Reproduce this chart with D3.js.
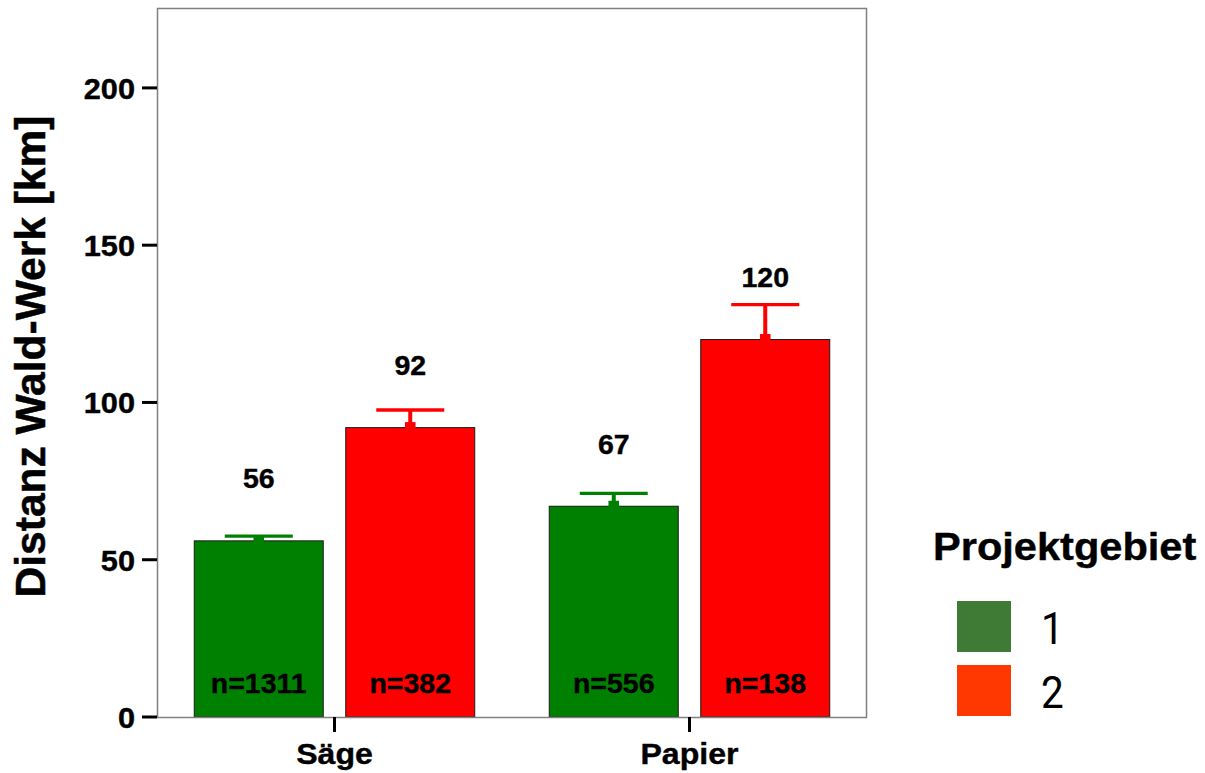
<!DOCTYPE html>
<html>
<head>
<meta charset="utf-8">
<script src="https://cdn.jsdelivr.net/npm/d3@7/dist/d3.min.js"></script>
<style>
  html, body { margin: 0; padding: 0; background: #ffffff; }
  svg { display: block; }
</style>
</head>
<body>
<svg id="chart" width="1205" height="773"></svg>
<script>
// Mean wood transport distance by plant type and project area
const categories = ["Säge", "Papier"];
const groups = ["1", "2"];
const means1 = [56, 67];          // project area 1
const means2 = [92, 120];         // project area 2
const upper1 = [57.5, 71.1];      // upper error bound, area 1
const upper2 = [97.6, 131.1];     // upper error bound, area 2
const counts1 = [1311, 556];
const counts2 = [382, 138];
const yTicks = [0, 50, 100, 150, 200];
const barColors = ["#008000", "#ff0000"];
const legendColors = ["#407b36", "#ff3700"];

const rows = [];
categories.forEach((c, i) => {
  rows.push({ cat: c, grp: "1", mean: means1[i], upper: upper1[i], n: counts1[i] });
  rows.push({ cat: c, grp: "2", mean: means2[i], upper: upper2[i], n: counts2[i] });
});

const svg = d3.select("#chart");
const panel = { left: 157, right: 867, top: 8, bottom: 717 };

const x = d3.scaleBand().domain(categories).range([panel.left, panel.right]).padding(0);
const x1 = d3.scaleBand().domain(groups).range([0, x.bandwidth()])
  .paddingInner(0.1485).paddingOuter(0.246);
const y = d3.scaleLinear().domain([0, 225.4]).range([panel.bottom, panel.top]);
const color = d3.scaleOrdinal().domain(groups).range(barColors);

const boldFont = "'Liberation Sans', Arial, sans-serif";

// stretched text helper
function label(g, txt, px, py, opts) {
  return g.append("text")
    .attr("transform", `translate(${px},${py}) scale(${opts.sx || 1},1)`)
    .attr("text-anchor", opts.anchor || "middle")
    .attr("font-family", opts.family || boldFont)
    .attr("font-weight", opts.weight || "bold")
    .attr("font-size", opts.size)
    .attr("fill", "#000")
    .attr("stroke", opts.weight === "normal" ? "none" : "#000")
    .attr("stroke-width", opts.weight === "normal" ? 0 : 0.4)
    .text(txt);
}

// bars
const barG = svg.append("g");
barG.selectAll("rect.bar").data(rows).join("rect")
  .attr("class", "bar")
  .attr("x", d => x(d.cat) + x1(d.grp))
  .attr("y", d => y(d.mean))
  .attr("width", x1.bandwidth())
  .attr("height", d => y(0) - y(d.mean))
  .attr("fill", d => color(d.grp))
  .attr("stroke", "#1a1a1a")
  .attr("stroke-width", 1);

// error bars (upper part)
const errG = svg.append("g");
rows.forEach(d => {
  const cx = x(d.cat) + x1(d.grp) + x1.bandwidth() / 2;
  const capW = x1.bandwidth() * 0.527;
  const c = color(d.grp);
  errG.append("line")
    .attr("x1", cx).attr("x2", cx)
    .attr("y1", y(d.mean)).attr("y2", y(d.upper))
    .attr("stroke", c).attr("stroke-width", 4);
  errG.append("line")
    .attr("x1", cx - capW / 2).attr("x2", cx + capW / 2)
    .attr("y1", y(d.upper)).attr("y2", y(d.upper))
    .attr("stroke", c).attr("stroke-width", 3.4);
  errG.append("rect")
    .attr("x", cx - 5.3).attr("y", y(d.mean) - 5.5)
    .attr("width", 10.6).attr("height", 6.5)
    .attr("fill", c);
});

// value and sample-size labels
const txtG = svg.append("g");
rows.forEach(d => {
  const cx = x(d.cat) + x1(d.grp) + x1.bandwidth() / 2;
  label(txtG, String(d.mean), cx, y(d.mean + 20) + 10.2, { size: 28.5, sx: 1.0 });
  label(txtG, "n=" + d.n, cx, y(11) + 10.2, { size: 28.5, sx: 1.0 });
});

// panel border
svg.append("rect")
  .attr("x", panel.left + 0.5).attr("y", panel.top + 0.5)
  .attr("width", panel.right - panel.left - 1)
  .attr("height", panel.bottom - panel.top)
  .attr("fill", "none").attr("stroke", "#808080").attr("stroke-width", 1.5);

// y axis
const yAxis = svg.append("g");
yTicks.forEach(t => {
  yAxis.append("line")
    .attr("x1", panel.left - 15).attr("x2", panel.left)
    .attr("y1", y(t)).attr("y2", y(t))
    .attr("stroke", "#000").attr("stroke-width", 3);
  label(yAxis, String(t), 135, y(t) + 10.8, { size: 29, sx: 1.06, anchor: "end" });
});

// x axis
const xAxis = svg.append("g");
categories.forEach(c => {
  const cx = x(c) + x.bandwidth() / 2;
  xAxis.append("line")
    .attr("x1", cx).attr("x2", cx)
    .attr("y1", panel.bottom).attr("y2", panel.bottom + 15)
    .attr("stroke", "#000").attr("stroke-width", 3);
  label(xAxis, c, cx, 764, { size: 30, sx: 1.07 });
});

// y axis title
svg.append("text")
  .attr("transform", `translate(45,${(115 + 598) / 2}) rotate(-90)`)
  .attr("text-anchor", "middle")
  .attr("font-family", boldFont)
  .attr("font-weight", "bold")
  .attr("font-size", 42.5)
  .attr("fill", "#000")
  .attr("stroke", "#000")
  .attr("stroke-width", 0.5)
  .text("Distanz Wald-Werk [km]");

// legend
const leg = svg.append("g");
label(leg, "Projektgebiet", 933, 560, { size: 38.5, sx: 1.08, anchor: "start" });
groups.forEach((g, i) => {
  const top = 601 + i * 64;
  leg.append("rect")
    .attr("x", 957).attr("y", top)
    .attr("width", 54).attr("height", 51)
    .attr("fill", legendColors[i]);
  label(leg, g, 1041, top + 43, { size: 45, sx: 0.9, anchor: "start", family: "Roboto, sans-serif", weight: "normal" });
});
</script>
</body>
</html>
